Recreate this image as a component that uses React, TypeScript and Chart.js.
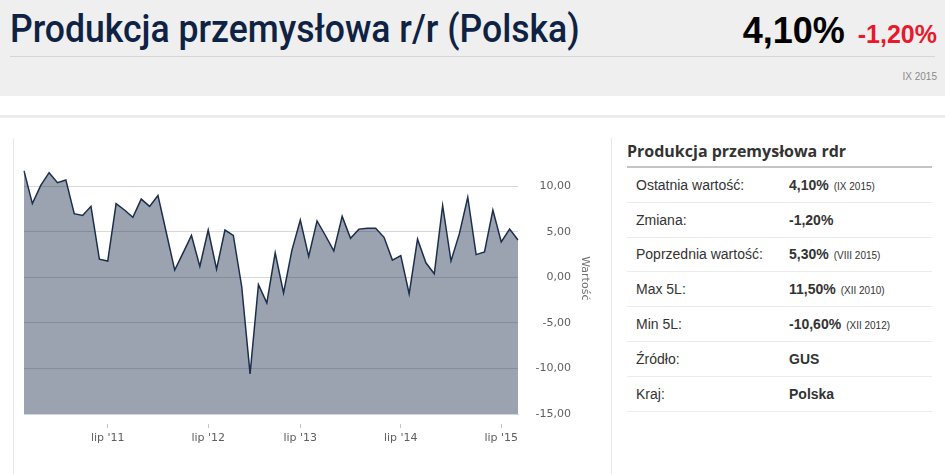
import React, { useEffect, useRef } from "react";
import { Chart, registerables } from "chart.js";

Chart.register(...registerables);

// ---- data ----
const months = [
  "2010-09", "2010-10", "2010-11", "2010-12",
  "2011-01", "2011-02", "2011-03", "2011-04", "2011-05", "2011-06",
  "2011-07", "2011-08", "2011-09", "2011-10", "2011-11", "2011-12",
  "2012-01", "2012-02", "2012-03", "2012-04", "2012-05", "2012-06",
  "2012-07", "2012-08", "2012-09", "2012-10", "2012-11", "2012-12",
  "2013-01", "2013-03", "2013-04", "2013-05", "2013-06",
  "2013-07", "2013-08", "2013-09", "2013-10", "2013-11", "2013-12",
  "2014-01", "2014-02", "2014-03", "2014-04", "2014-05", "2014-06",
  "2014-07", "2014-08", "2014-09", "2014-10", "2014-11", "2014-12",
  "2015-01", "2015-02", "2015-03", "2015-04", "2015-05", "2015-06",
  "2015-07", "2015-08", "2015-09",
];

const values = [
  11.7, 8.1, 10.1, 11.5,
  10.4, 10.7, 7.0, 6.8, 7.8, 2.0,
  1.8, 8.1, 7.4, 6.6, 8.6, 7.8,
  9.0, 4.9, 0.8, 2.7, 4.6, 1.2,
  5.2, 0.9, 5.2, 4.6, -1.0, -10.6,
  -0.8, -2.8, 2.7, -1.7, 3.0,
  6.3, 2.3, 6.2, 4.6, 2.9, 6.7,
  4.3, 5.3, 5.4, 5.4, 4.4, 1.9,
  2.4, -1.8, 4.2, 1.6, 0.4, 7.9,
  1.8, 4.8, 8.8, 2.5, 2.8, 7.4,
  3.9, 5.3, 4.1,
];

const tickMonths = ["2011-07", "2012-07", "2013-07", "2014-07", "2015-07"];
const tickLabels = ["lip '11", "lip '12", "lip '13", "lip '14", "lip '15"];
const yTickValues = [-15, -10, -5, 0, 5, 10];
const yMin = -15;
const yMax = 14.8;

const statLabels = [
  "Ostatnia wartość:",
  "Zmiana:",
  "Poprzednia wartość:",
  "Max 5L:",
  "Min 5L:",
  "Źródło:",
  "Kraj:",
];
const statValues = ["4,10%", "-1,20%", "5,30%", "11,50%", "-10,60%", "GUS", "Polska"];
const statNotes = ["(IX 2015)", "", "(VIII 2015)", "(XII 2010)", "(XII 2012)", "", ""];

const fmt = (v: number) => v.toFixed(2).replace(".", ",");

function ChartBox() {
  const ref = useRef<HTMLCanvasElement | null>(null);
  useEffect(() => {
    if (!ref.current) return;
    const chart = new Chart(ref.current, {
      type: "line",
      data: {
        labels: months,
        datasets: [
          {
            data: values,
            borderColor: "#1c2e4b",
            borderWidth: 1.5,
            backgroundColor: "rgba(28,46,75,0.44)",
            fill: "start",
            pointRadius: 0,
            tension: 0,
          },
        ],
      },
      options: {
        animation: false,
        responsive: false,
        maintainAspectRatio: false,
        layout: { padding: { left: 10, right: 40, top: 2, bottom: 0 } },
        plugins: { legend: { display: false }, tooltip: { enabled: false } },
        scales: {
          x: {
            afterFit: (s: any) => {
              s.height = 60;
            },
            border: { display: true, color: "#cfd6df", width: 1 },
            grid: {
              drawOnChartArea: false,
              drawTicks: true,
              tickLength: 14,
              tickBorderDash: [0, 9, 5, 100],
              tickColor: (ctx: any) =>
                tickMonths.includes(months[ctx.index]) ? "#b8c6d8" : "rgba(0,0,0,0)",
            },
            ticks: {
              autoSkip: false,
              maxRotation: 0,
              padding: 4,
              color: "#606060",
              font: { family: "DejaVu Sans", size: 11 },
              callback: (_v: any, i: number) => {
                const k = tickMonths.indexOf(months[i]);
                return k >= 0 ? tickLabels[k] : "";
              },
            },
          },
          y: {
            position: "right",
            min: yMin,
            max: yMax,
            afterBuildTicks: (s: any) => {
              s.ticks = yTickValues.map((v) => ({ value: v }));
            },
            afterFit: (s: any) => {
              s.width = 53;
            },
            border: { display: false },
            grid: { color: "#d8d8d8", lineWidth: 1, drawTicks: false },
            ticks: {
              padding: 13,
              crossAlign: "far",
              color: "#606060",
              font: { family: "DejaVu Sans", size: 11 },
              callback: (v: any) => fmt(Number(v)),
            },
            title: {
              display: true,
              text: "Wartość",
              color: "#707070",
              padding: { top: -20.6, bottom: 0 },
              font: { family: "DejaVu Sans", size: 11 },
            },
          },
        },
      },
    });
    return () => chart.destroy();
  }, []);
  return (
    <canvas
      ref={ref}
      width={597}
      height={351}
      style={{ position: "absolute", left: 14, top: 123, width: 597, height: 351 }}
    />
  );
}

export default function App() {
  return (
    <div
      style={{
        position: "absolute",
        left: 0,
        top: 0,
        width: 945,
        height: 474,
        overflow: "hidden",
        background: "#ffffff",
        fontFamily: "'Liberation Sans', Arial, sans-serif",
      }}
    >
      {/* header */}
      <div style={{ position: "absolute", left: 0, top: 0, width: 945, height: 96, background: "#efefef" }} />
      <div
        style={{
          position: "absolute",
          left: 10,
          top: 3,
          fontFamily: "Roboto, sans-serif",
          fontWeight: 500,
          fontSize: 39,
          color: "#0e2244",
          whiteSpace: "nowrap",
          lineHeight: "52px",
          transform: "scaleX(0.912)",
          transformOrigin: "0 0",
        }}
      >
        Produkcja przemysłowa r/r (Polska)
      </div>
      <div
        style={{
          position: "absolute",
          right: 8,
          top: 8,
          whiteSpace: "nowrap",
          lineHeight: "46px",
        }}
      >
        <span style={{ fontWeight: 700, fontSize: 36, color: "#000" }}>4,10%</span>
        <span style={{ fontWeight: 700, fontSize: 25, color: "#e8192c", marginLeft: 13 }}>-1,20%</span>
      </div>
      <div style={{ position: "absolute", left: 10, top: 56, width: 925, height: 1, background: "#d6d6d6" }} />
      <div style={{ position: "absolute", right: 8, top: 71, fontSize: 10, color: "#8a8a8a" }}>IX 2015</div>

      {/* outer panel */}
      <div style={{ position: "absolute", left: 0, top: 115, width: 945, height: 3, background: "#ececec" }} />
      <div
        style={{
          position: "absolute",
          left: 13,
          top: 138,
          width: 597,
          height: 340,
          borderLeft: "1px solid #e8e8e8",
          borderRight: "1px solid #e8e8e8",
        }}
      />
      <ChartBox />

      {/* stats table */}
      <div
        style={{
          position: "absolute",
          left: 627,
          top: 139,
          fontFamily: "'Open Sans', sans-serif",
          fontWeight: 700,
          fontSize: 16,
          color: "#333",
          whiteSpace: "nowrap",
          lineHeight: "24px",
        }}
      >
        Produkcja przemysłowa rdr
      </div>
      <div style={{ position: "absolute", left: 627, top: 166, width: 305, height: 2, background: "#c4c4c4" }} />
      {statLabels.map((lab, i) => (
        <div
          key={lab}
          style={{
            position: "absolute",
            left: 627,
            top: 168 + i * 34.8,
            width: 305,
            height: 33.8,
            borderBottom: "1px solid #ececec",
            display: "flex",
            alignItems: "center",
            fontSize: 14,
            color: "#333",
            whiteSpace: "nowrap",
          }}
        >
          <span style={{ position: "absolute", left: 9 }}>{lab}</span>
          <span style={{ position: "absolute", left: 162, fontWeight: 700 }}>
            {statValues[i]}
            {statNotes[i] ? (
              <span style={{ fontWeight: 400, fontSize: 10, marginLeft: 5 }}>{statNotes[i]}</span>
            ) : null}
          </span>
        </div>
      ))}
    </div>
  );
}
